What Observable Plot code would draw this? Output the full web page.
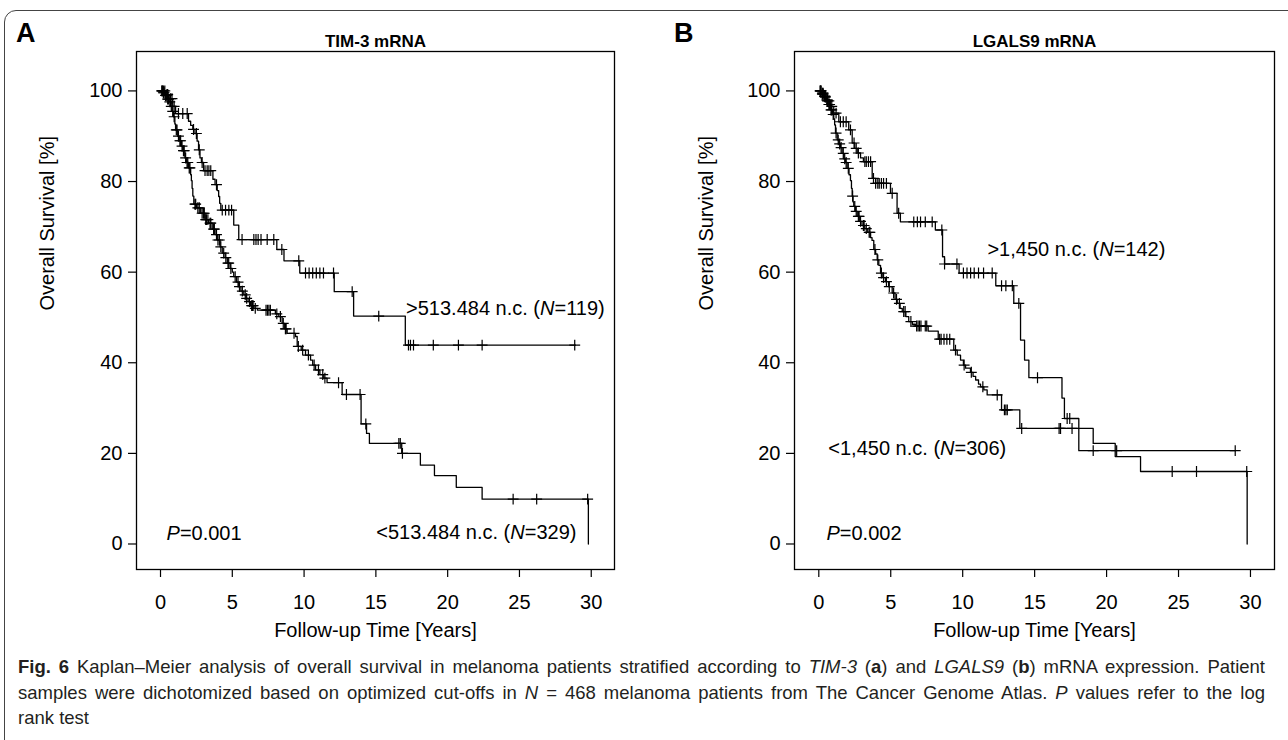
<!DOCTYPE html>
<html>
<head>
<meta charset="utf-8">
<script src="https://cdn.jsdelivr.net/npm/d3@7"></script>
<script src="https://cdn.jsdelivr.net/npm/@observablehq/plot@0.6"></script>
<style>
  html, body { margin: 0; padding: 0; background: #fff; }
  body { width: 1288px; height: 740px; overflow: hidden; position: relative; font-family: "Liberation Sans", Arial, sans-serif; color: #000; }
  #outer { position: absolute; left: 4px; top: 10px; width: 1320px; height: 800px; border: 1.5px solid #444; border-radius: 12px; box-sizing: border-box; }
  #panelA, #panelB { position: absolute; top: 0; width: 640px; height: 660px; }
  #panelA { left: 0; }
  #panelB { left: 660px; }
  #panelA svg, #panelB svg { max-width: none !important; width: 640px; height: 660px; }
  .letter { position: absolute; font-weight: bold; font-size: 27px; line-height: 1; }
  #caption { position: absolute; left: 18px; top: 654px; width: 1247px; font-family: "Liberation Sans Narrow", "Liberation Sans", Arial, sans-serif; font-size: 18.5px; line-height: 25.5px; color: #231f20; }
  .just { text-align: justify; text-align-last: justify; }
</style>
</head>
<body>
<div id="outer"></div>
<div id="panelA"></div>
<div id="panelB"></div>
<div class="letter" style="left:16px;top:20px;">A</div>
<div class="letter" style="left:674px;top:20px;">B</div>
<div id="caption">
  <div class="just"><b>Fig. 6</b> Kaplan–Meier analysis of overall survival in melanoma patients stratified according to <i>TIM-3</i> (<b>a</b>) and <i>LGALS9</i> (<b>b</b>) mRNA expression. Patient</div>
  <div class="just">samples were dichotomized based on optimized cut-offs in <i>N</i> = 468 melanoma patients from The Cancer Genome Atlas. <i>P</i> values refer to the log</div>
  <div>rank test</div>
</div>
<script>
// ---------- Axis ticks & labels ----------
const xTicks = [0, 5, 10, 15, 20, 25, 30];
const yTicks = [0, 20, 40, 60, 80, 100];
const xLabel = "Follow-up Time [Years]";
const yLabel = "Overall Survival [%]";
const titles = ["TIM-3 mRNA", "LGALS9 mRNA"];

// ---------- Panel A: TIM-3 ----------
// high group (>513.484 n.c., N=119)
const tA_high = [0, 0.35, 0.6, 0.85, 1.05, 1.95, 2.1, 2.25, 2.4, 2.55, 2.65, 2.75, 2.85, 3.0, 3.65, 3.8, 3.95, 4.05, 4.12, 4.2, 5.1, 5.45, 8.1, 8.6, 9.7, 12.1, 13.45, 17.05, 28.9];
const sA_high = [100, 99.2, 98.3, 96.6, 95.0, 93.3, 92.4, 91.5, 90.6, 88.9, 87.0, 85.2, 84.2, 82.4, 80.5, 79.3, 78.0, 76.7, 75.2, 73.7, 70.4, 67.2, 65.0, 62.5, 59.8, 55.7, 50.3, 43.9, 43.9];
const cA_high = [0.1, 0.15, 0.2, 0.3, 0.45, 0.5, 0.7, 0.8, 0.95, 1.25, 1.55, 1.86, 2.3, 2.5, 2.7, 2.9, 3.1, 3.25, 3.37, 3.5, 3.9, 4.3, 4.53, 4.76, 4.95, 5.68, 6.5, 6.65, 6.8, 7.0, 7.43, 7.89, 8.45, 9.63, 10.1, 10.35, 10.6, 10.85, 11.1, 11.35, 12.05, 13.35, 15.2, 17.27, 17.41, 17.62, 19.0, 20.75, 22.4, 28.85];
// low group (<513.484 n.c., N=329)
const tA_low = [0, 0.15, 0.3, 0.45, 0.6, 0.7, 0.8, 0.9, 1.0, 1.05, 1.2, 1.3, 1.45, 1.55, 1.7, 1.8, 1.95, 2.1, 2.15, 2.2, 2.25, 2.32, 2.5, 2.8, 3.1, 3.35, 3.6, 3.8, 3.95, 4.15, 4.3, 4.5, 4.65, 4.85, 5.0, 5.1, 5.3, 5.45, 5.6, 5.8, 5.95, 6.1, 6.27, 6.5, 6.75, 8.0, 8.24, 8.47, 8.65, 8.82, 9.4, 9.52, 9.8, 10.1, 10.45, 10.6, 10.8, 11.1, 11.37, 11.6, 12.65, 13.97, 14.35, 14.55, 16.8, 18.1, 19.08, 20.6, 22.4, 29.8];
const sA_low = [100, 99.6, 99.0, 98.2, 97.6, 96.6, 95.5, 94.3, 92.7, 91.4, 90.0, 89.0, 87.8, 86.8, 85.2, 84.2, 83.0, 81.5, 80.2, 78.5, 76.8, 75.0, 74.2, 73.0, 71.6, 70.8, 69.5, 68.3, 67.1, 65.6, 64.2, 63.2, 62.0, 60.8, 60.0, 59.0, 57.8, 56.8, 55.8, 55.0, 54.2, 53.5, 52.6, 52.0, 51.6, 50.8, 50.2, 48.7, 47.5, 46.5, 45.8, 43.6, 42.8, 41.7, 40.6, 39.5, 38.4, 37.4, 36.6, 35.6, 33.0, 26.5, 24.4, 22.2, 20.0, 17.4, 15.1, 12.5, 9.9, 0];
const cA_low = [0.1, 0.2, 0.25, 0.35, 0.4, 0.5, 0.55, 0.65, 0.75, 0.85, 0.95, 1.1, 1.15, 1.25, 1.35, 1.4, 1.5, 1.6, 1.65, 1.75, 1.85, 1.9, 2.0, 2.05, 2.4, 2.45, 2.6, 2.7, 2.9, 3.0, 3.05, 3.15, 3.2, 3.3, 3.45, 3.5, 3.7, 3.75, 3.9, 4.0, 4.1, 4.2, 4.4, 4.55, 4.7, 4.75, 4.9, 5.2, 5.4, 5.5, 5.7, 5.9, 6.0, 6.2, 6.35, 6.4, 6.45, 6.6, 7.35, 7.45, 7.55, 7.65, 8.1, 8.35, 8.55, 8.7, 8.75, 9.3, 9.6, 9.9, 10.3, 10.7, 11.0, 11.3, 11.45, 12.4, 12.95, 13.9, 14.3, 16.6, 16.7, 16.85, 24.56, 26.2, 29.75];
const notesA_start = [{t: 17.1, s: 51.9, label: ">513.484 n.c. (N=119)"}, {t: 0.42, s: 2.4, label: "P=0.001"}];
const notesA_end = [{t: 28.97, s: 2.6, label: "<513.484 n.c. (N=329)"}];

// ---------- Panel B: LGALS9 ----------
// high group (>1,450 n.c., N=142)
const tB_high = [0, 0.2, 0.35, 0.55, 0.8, 1.04, 1.39, 2.08, 2.32, 2.5, 2.67, 2.9, 3.1, 3.71, 3.95, 4.98, 5.44, 5.67, 8.1, 8.6, 8.74, 9.75, 12.3, 13.55, 14.02, 14.3, 14.6, 16.9, 17.07, 18.07, 28.96];
const sB_high = [100, 99.3, 98.6, 97.8, 96.6, 95.1, 93.2, 91.4, 88.5, 87.3, 86.3, 85.2, 84.4, 80.7, 79.6, 77.4, 73.0, 71.1, 69.3, 63.4, 61.8, 59.8, 57.0, 53.1, 45.0, 40.6, 36.7, 32.2, 27.7, 20.6, 20.6];
const cB_high = [0.1, 0.15, 0.25, 0.3, 0.45, 0.6, 0.7, 0.9, 1.2, 1.5, 1.7, 1.9, 2.2, 2.45, 2.6, 2.75, 3.2, 3.3, 3.45, 3.6, 3.8, 3.95, 4.1, 4.2, 4.35, 4.5, 4.7, 5.1, 5.55, 6.6, 6.85, 7.07, 7.4, 7.88, 8.55, 8.74, 9.6, 10.05, 10.3, 10.55, 10.8, 11.1, 11.45, 12.05, 12.7, 13.0, 13.45, 13.9, 15.2, 17.26, 17.44, 19.07, 20.7, 28.94];
// low group (<1,450 n.c., N=306)
const tB_low = [0, 0.2, 0.35, 0.5, 0.65, 0.8, 0.95, 1.04, 1.1, 1.16, 1.28, 1.4, 1.5, 1.62, 1.74, 1.86, 1.97, 2.1, 2.2, 2.27, 2.32, 2.38, 2.43, 2.55, 2.67, 2.85, 3.0, 3.2, 3.4, 3.6, 3.7, 3.82, 3.95, 4.06, 4.17, 4.29, 4.45, 4.63, 4.85, 5.1, 5.3, 5.45, 5.65, 5.8, 6.05, 6.25, 6.5, 6.72, 7.6, 8.3, 9.38, 9.62, 9.85, 10.05, 10.2, 10.54, 10.72, 10.9, 11.1, 11.24, 11.47, 11.7, 12.7, 13.97, 19.07, 20.6, 22.36, 29.77];
const sB_low = [100, 99.5, 98.8, 98.0, 97.0, 95.8, 94.8, 93.8, 92.5, 90.7, 89.2, 88.3, 87.5, 86.2, 85.0, 84.2, 82.9, 81.5, 80.2, 78.5, 76.8, 75.5, 74.5, 73.4, 72.3, 71.2, 70.3, 69.6, 68.8, 67.6, 67.0, 65.0, 64.0, 62.7, 61.5, 59.8, 58.8, 57.9, 56.8, 55.4, 54.0, 53.1, 52.0, 51.3, 50.2, 49.1, 48.5, 48.1, 47.0, 45.2, 42.8, 41.7, 40.6, 39.5, 38.8, 37.9, 37.0, 36.2, 35.3, 34.7, 34.0, 32.9, 29.6, 25.5, 22.2, 19.3, 16.0, 0];
const cB_low = [0.1, 0.15, 0.25, 0.3, 0.4, 0.45, 0.55, 0.6, 0.7, 0.75, 0.85, 0.9, 1.0, 1.2, 1.35, 1.45, 1.55, 1.7, 1.8, 1.9, 2.05, 2.35, 2.5, 2.6, 2.75, 2.8, 2.9, 3.1, 3.15, 3.3, 3.5, 3.55, 3.9, 4.1, 4.35, 4.5, 4.7, 4.9, 5.2, 5.4, 5.6, 5.9, 6.0, 6.4, 6.8, 6.9, 7.0, 7.1, 7.4, 7.5, 8.4, 8.5, 8.7, 8.9, 9.1, 9.5, 10.1, 10.6, 11.4, 12.4, 12.9, 13.0, 13.1, 14.1, 16.7, 16.8, 17.6, 24.56, 26.25, 29.74];
const notesB_start = [{t: 11.72, s: 65.0, label: ">1,450 n.c. (N=142)"}, {t: 0.66, s: 21.1, label: "<1,450 n.c. (N=306)"}, {t: 0.53, s: 2.4, label: "P=0.002"}];
const notesB_end = [];

// ---------- helpers ----------
function stepAt(ts, ss, c) {
  let v = ss[0];
  for (let i = 0; i < ts.length; i++) if (ts[i] <= c) v = ss[i];
  return v;
}
function italicize(svg) {
  svg.querySelectorAll("text").forEach(el => {
    if (el.querySelector("tspan")) return;
    const s = el.textContent;
    const m = s.match(/^(.*?)([NP])(=.*)$/);
    if (!m) return;
    el.textContent = "";
    if (m[1]) el.appendChild(document.createTextNode(m[1]));
    const ts = document.createElementNS("http://www.w3.org/2000/svg", "tspan");
    ts.setAttribute("font-style", "italic");
    ts.textContent = m[2];
    el.appendChild(ts);
    el.appendChild(document.createTextNode(m[3]));
  });
}

function panel(o) {
  const lines = [
    ...o.t1.map((t, i) => ({t, s: o.s1[i], g: "high"})),
    ...o.t2.map((t, i) => ({t, s: o.s2[i], g: "low"}))
  ];
  const cens = [
    ...o.c1.map(c => ({t: c, s: stepAt(o.t1, o.s1, c)})),
    ...o.c2.map(c => ({t: c, s: stepAt(o.t2, o.s2, c)}))
  ];
  const svg = Plot.plot({
    width: 640,
    height: 660,
    marginLeft: o.ml,
    marginRight: 26,
    marginTop: 51,
    marginBottom: 91,
    x: {domain: o.xd},
    y: {domain: [-5.63, 108.7]},
    style: {fontFamily: '"Liberation Sans", Arial, sans-serif', fontSize: "20px", color: "#000", background: "transparent", overflow: "visible"},
    marks: [
      Plot.frame({stroke: "#000", strokeWidth: 1.3}),
      Plot.axisX({ticks: xTicks, tickSize: 8, tickPadding: 17, label: null, tickFormat: d => String(d), strokeWidth: 1.2}),
      Plot.axisY({ticks: yTicks, tickSize: 8, tickPadding: 6, label: null, tickFormat: d => String(d), strokeWidth: 1.2}),
      Plot.line(lines, {x: "t", y: "s", z: "g", curve: "step-after", stroke: "#000", strokeWidth: 1.3}),
      Plot.dot(cens, {x: "t", y: "s", symbol: "plus", r: 3.6, stroke: "#000", strokeWidth: 1.2, fill: "none"}),
      Plot.text([o.title], {frameAnchor: "top", dy: -17, fontWeight: "bold", fontSize: 17}),
      Plot.text([yLabel], {frameAnchor: "left", dx: o.ylx, rotate: -90, fontSize: 20}),
      Plot.text([xLabel], {frameAnchor: "bottom", dy: 67, fontSize: 20}),
      Plot.text(o.ns, {x: "t", y: "s", text: "label", textAnchor: "start", fontSize: 20}),
      Plot.text(o.ne, {x: "t", y: "s", text: "label", textAnchor: "end", fontSize: 20})
    ]
  });
  italicize(svg);
  return svg;
}

document.getElementById("panelA").appendChild(panel({
  t1: tA_high, s1: sA_high, c1: cA_high,
  t2: tA_low, s2: sA_low, c2: cA_low,
  ml: 136, xd: [-1.672, 31.62], title: titles[0], ylx: -89,
  ns: notesA_start, ne: notesA_end
}));
document.getElementById("panelB").appendChild(panel({
  t1: tB_high, s1: sB_high, c1: cB_high,
  t2: tB_low, s2: sB_low, c2: cB_low,
  ml: 134, xd: [-1.689, 31.67], title: titles[1], ylx: -88,
  ns: notesB_start, ne: notesB_end
}));
</script>
</body>
</html>
